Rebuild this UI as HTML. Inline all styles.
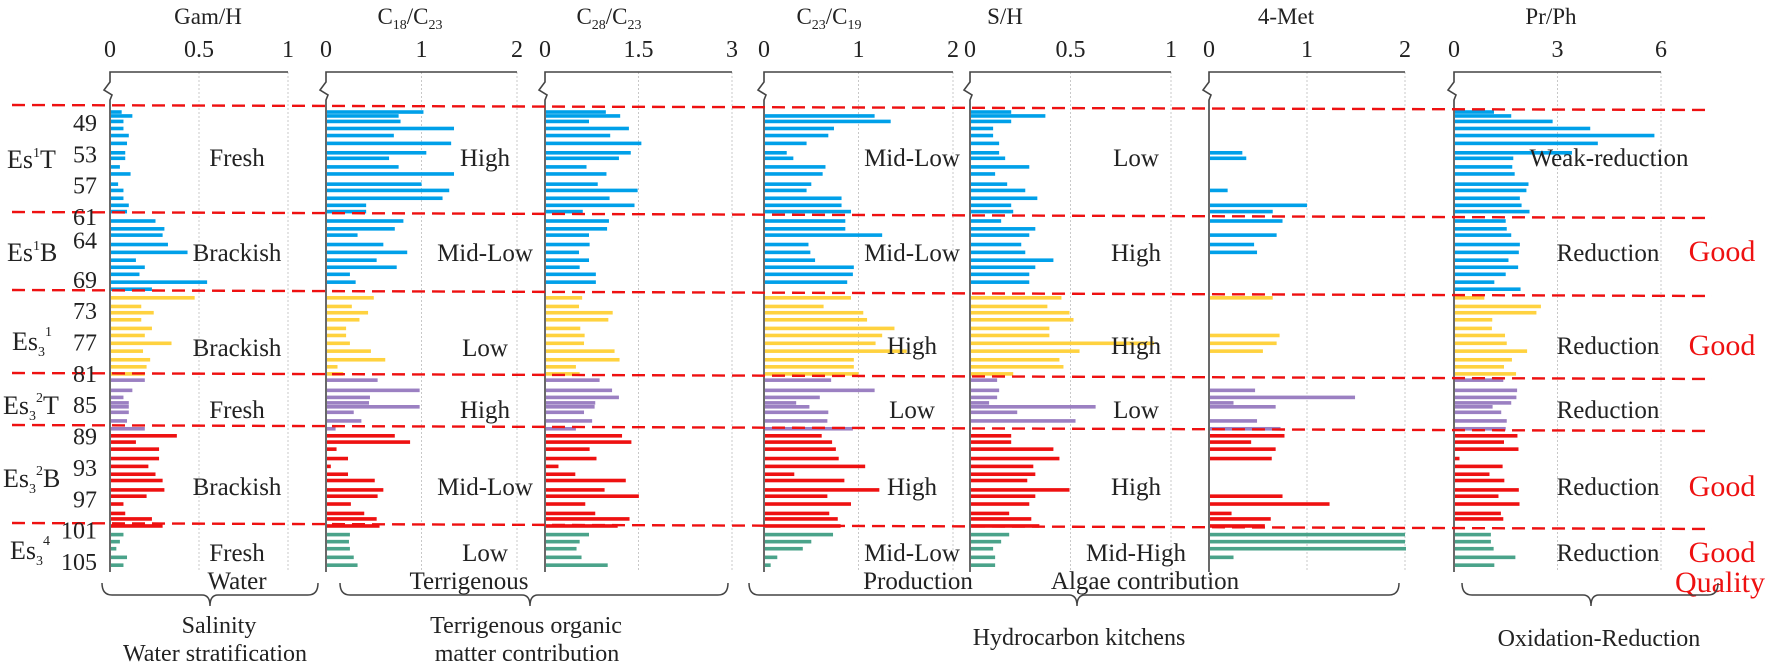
<!DOCTYPE html>
<html><head><meta charset="utf-8"><style>
html,body{margin:0;padding:0;background:#fff}
svg{display:block}
text{font-family:"Liberation Serif",serif;fill:#222}
text.red{fill:#ee1111}
</style></head><body>
<svg id="chart" width="1772" height="664" viewBox="0 0 1772 664" xmlns="http://www.w3.org/2000/svg">
<g id="grid"></g><g id="bars"></g><g id="axes"></g><g id="dividers"></g><g id="labels"></g>
</svg>
<script>
// ---- data ----
const depths = [47.6,48.1,48.8,49.7,50.6,51.6,52.8,53.5,54.6,55.5,56.8,57.6,58.6,59.5,60.3,61.5,62.5,63.3,64.5,65.5,66.5,67.4,68.3,69.3,70.2,
71.3,72.4,73.2,74.1,75.2,76.1,77.1,78.1,79.2,80.1,81.0,
81.8,83.1,84.0,84.7,85.2,85.9,87.0,88.0,
88.9,89.7,90.6,91.8,92.8,93.8,94.6,95.8,96.6,97.6,98.8,99.5,100.4,
101.5,102.4,103.3,104.4,105.4];
const depthTicks = [49,53,57,61,64,69,73,77,81,85,89,93,97,101,105];
const gamH = [.06,.12,.07,.07,.10,.09,.08,.08,.05,.11,.04,.07,.07,.10,.09,.25,.30,.29,.32,.43,.14,.19,.16,.54,.23,
.47,.17,.24,.17,.23,.19,.34,.18,.22,.20,.19,
.19,.12,.07,.10,.10,.10,.09,.19,
.37,.14,.27,.27,.21,.25,.29,.30,.20,.07,.08,.23,.29,
.07,.05,.03,.09,.07];
const c18c23 = [1.01,.75,.77,1.33,.70,1.30,1.04,.65,.75,1.33,.99,1.28,1.21,.41,.41,.80,.71,.32,.59,.84,.52,.73,.24,.30,null,
.49,.26,.43,.34,.20,.20,.24,.46,.61,.11,.17,
.53,.97,.45,.44,.97,.28,.36,.09,
.71,.87,.10,.22,.04,.22,.50,.59,.53,.25,.39,.52,.55,
.24,.23,.24,.28,.32];
const c28c23 = [.96,1.19,.69,1.33,1.03,1.53,1.36,1.17,.65,.97,.83,1.47,1.02,1.42,.59,1.01,.98,.69,.70,.53,.69,.54,.80,.80,null,
.58,.53,1.07,1.00,.55,.62,.61,1.10,1.18,.48,.54,
.86,1.06,1.17,.79,.78,.61,.74,.48,
1.22,1.37,.70,.81,.20,.47,1.28,.94,1.49,.63,.79,1.34,1.15,
.69,.54,.49,.57,.99];
const c23c19 = [null,1.16,1.33,.73,.67,.44,.23,.30,.64,.61,.49,.44,.81,.81,.91,.85,.85,1.24,.46,.48,.53,.94,.93,.87,null,
.91,.62,1.04,1.08,1.37,1.24,1.17,1.50,.94,.94,.99,
.70,1.16,.58,.33,.47,.67,.66,.93,
.60,.71,.75,.78,1.06,.31,.84,1.21,.66,.91,.68,.77,.80,
.72,.49,.40,.13,.06];
const sH = [.20,.37,.20,.11,.11,.14,.14,.17,.29,.12,.18,.27,.33,.20,.21,.15,.32,.29,.25,.27,.41,.32,.29,.29,null,
.45,.38,.49,.51,.39,.39,.91,.54,.44,.46,.21,
.13,.14,.13,.09,.62,.23,.52,null,
.20,.20,.41,.44,.31,.32,.28,.49,.32,.29,.19,.30,.34,
.19,.15,.11,.12,.12];
const met4 = [null,null,null,null,null,null,.33,.37,null,null,
null,.18,null,.99,.64,.74,null,.68,.45,.48,
null,null,null,null,null,.64,null,null,null,null,
.71,.68,.54,null,null,null,null,.46,1.48,.24,
.67,null,.48,.72,.76,.42,.67,.63,null,null,
null,null,.74,1.22,.22,.62,.56,1.99,1.99,2.0,
.24,null];
const prPh = [1.13,1.63,2.83,3.92,5.78,4.14,3.39,1.69,1.66,1.73,2.13,2.07,1.88,1.93,2.16,1.47,1.5,1.63,1.88,1.85,1.55,1.83,1.47,1.14,1.90,
.85,2.49,2.36,1.08,1.07,1.45,1.5,2.09,1.65,1.42,1.77,
1.40,1.80,1.78,1.63,1.09,1.34,1.5,1.47,
1.81,1.42,1.84,.13,1.38,1.0,1.43,1.85,1.26,1.87,1.33,1.4,null,
1.04,1.04,1.12,1.75,1.14];
const ticksA = ["0","0.5","1"], ticksB = ["0","1","2"], ticksC = ["0","1.5","3"], ticksD = ["0","3","6"];

// ---- layout ----
const NS="http://www.w3.org/2000/svg";
const yTop=72, yBot=572;
function yScale(d){return 123+(d-49)*7.84;}
function colorFor(d){return d<70.7?"#00a0e9":d<81.4?"#ffd23f":d<88.4?"#9b80c2":d<101?"#ee1111":"#4aa38a";}
function mk(tag,attrs,parent){const e=document.createElementNS(NS,tag);for(const k in attrs)e.setAttribute(k,attrs[k]);parent.appendChild(e);return e;}
const G=id=>document.getElementById(id);

const panels=[
 {key:"gam-h",x0:110,x1:288,max:1,vals:gamH,ticks:ticksA,title:[["Gam/H"]],tx:208},
 {key:"c18-c23",x0:326,x1:517,max:2,vals:c18c23,ticks:ticksB,title:[["C"],["18","s"],["/C"],["23","s"]],tx:410},
 {key:"c28-c23",x0:545,x1:732,max:3,vals:c28c23,ticks:ticksC,title:[["C"],["28","s"],["/C"],["23","s"]],tx:609},
 {key:"c23-c19",x0:764,x1:953,max:2,vals:c23c19,ticks:ticksB,title:[["C"],["23","s"],["/C"],["19","s"]],tx:829},
 {key:"s-h",x0:970,x1:1171,max:1,vals:sH,ticks:ticksA,title:[["S/H"]],tx:1005},
 {key:"4-met",x0:1209,x1:1405,max:2,vals:met4,ticks:ticksB,title:[["4-Met"]],tx:1286},
 {key:"pr-ph",x0:1454,x1:1661,max:6,vals:prPh,ticks:ticksD,title:[["Pr/Ph"]],tx:1551}
];

panels.forEach(p=>{
  const xs=v=>p.x0+(v/p.max)*(p.x1-p.x0);
  p.ticks.forEach((t,i)=>{
    const v=parseFloat(t), x=xs(v);
    if(v>0){const gl=mk("line",{x1:x,x2:x,y1:yTop,y2:yBot,stroke:"#c8c8c8","stroke-width":1,"stroke-dasharray":"2,2"},G("grid"));
      
      }
    const tl=mk("text",{x:x,y:57,"font-size":24,"text-anchor":"middle"},G("axes"));
    tl.textContent=t;
    
    
  });
  const tt=mk("text",{x:p.tx,y:24,"font-size":23,"text-anchor":"middle"},G("axes"));
  
  
  p.title.forEach(s=>{const ts=mk("tspan",{},tt);ts.textContent=s[0];if(s[1]){ts.setAttribute("font-size","14");ts.setAttribute("dy","5");}else if(tt.childNodes.length>1){ts.setAttribute("dy","-5");}});
  const ax=mk("path",{d:`M${p.x1},${yTop} L${p.x0},${yTop} L${p.x0},82 L${p.x0-6},90 L${p.x0+2},95 L${p.x0},100 L${p.x0},${yBot}`,fill:"none",stroke:"#444","stroke-width":1.6},G("axes"));
  
  
  p.vals.forEach((v,i)=>{
    if(v===null||v===undefined)return;
    const y=yScale(depths[i]);
    const r=mk("rect",{x:p.x0+1,y:y-1.8,width:Math.max(1,xs(v)-p.x0),height:3.6,fill:colorFor(depths[i])},G("bars"));
    
    
  });
});

depthTicks.forEach(d=>{
  const t=mk("text",{x:97,y:yScale(d)+8,"font-size":24,"text-anchor":"end"},G("labels"));
  t.textContent=d;
  
  
});

[[105,110],[212,218],[290,296],[373,379],[425,431],[523,529]].forEach(l=>{
  const d=mk("line",{x1:12,y1:l[0],x2:1712,y2:l[1],stroke:"#ee1111","stroke-width":2.4,"stroke-dasharray":"13,7"},G("dividers"));
  
  
});
</script>
<svg style="position:absolute;left:0;top:0" width="1772" height="664">
<g font-family="Liberation Serif, serif" fill="#222" font-size="25">
 <text x="7" y="168" font-size="26">Es<tspan font-size="14" dy="-11">1</tspan><tspan dy="11">T</tspan></text>
 <text x="7" y="261" font-size="26">Es<tspan font-size="14" dy="-11">1</tspan><tspan dy="11">B</tspan></text>
 <text x="12" y="350" font-size="26">Es<tspan font-size="14" dy="6">3</tspan><tspan font-size="14" dy="-20">1</tspan></text>
 <text x="3" y="414" font-size="26">Es<tspan font-size="14" dy="6">3</tspan><tspan font-size="14" dy="-18">2</tspan><tspan dy="12">T</tspan></text>
 <text x="3" y="487" font-size="26">Es<tspan font-size="14" dy="6">3</tspan><tspan font-size="14" dy="-18">2</tspan><tspan dy="12">B</tspan></text>
 <text x="10" y="559" font-size="26">Es<tspan font-size="14" dy="6">3</tspan><tspan font-size="14" dy="-20">4</tspan></text>
</g>
<g font-family="Liberation Serif, serif" fill="#222" font-size="25" text-anchor="middle">
 <text x="237" y="166">Fresh</text>
 <text x="237" y="261">Brackish</text>
 <text x="237" y="356">Brackish</text>
 <text x="237" y="418">Fresh</text>
 <text x="237" y="495">Brackish</text>
 <text x="237" y="561">Fresh</text>
 <text x="237" y="589">Water</text>
 <text x="485" y="166">High</text>
 <text x="485" y="261">Mid-Low</text>
 <text x="485" y="356">Low</text>
 <text x="485" y="418">High</text>
 <text x="485" y="495">Mid-Low</text>
 <text x="485" y="561">Low</text>
 <text x="469" y="589">Terrigenous</text>
 <text x="912" y="166">Mid-Low</text>
 <text x="912" y="261">Mid-Low</text>
 <text x="912" y="354">High</text>
 <text x="912" y="418">Low</text>
 <text x="912" y="495">High</text>
 <text x="912" y="561">Mid-Low</text>
 <text x="918" y="589">Production</text>
 <text x="1136" y="166">Low</text>
 <text x="1136" y="261">High</text>
 <text x="1136" y="354">High</text>
 <text x="1136" y="418">Low</text>
 <text x="1136" y="495">High</text>
 <text x="1136" y="561">Mid-High</text>
 <text x="1145" y="589">Algae contribution</text>
 <text x="1609" y="166">Weak-reduction</text>
 <text x="1608" y="261">Reduction</text>
 <text x="1608" y="354">Reduction</text>
 <text x="1608" y="418">Reduction</text>
 <text x="1608" y="495">Reduction</text>
 <text x="1608" y="561">Reduction</text>
</g>
<g font-family="Liberation Serif, serif" font-size="30" text-anchor="middle">
 <text class="red" x="1722" y="261">Good</text>
 <text class="red" x="1722" y="355">Good</text>
 <text class="red" x="1722" y="496">Good</text>
 <text class="red" x="1722" y="562">Good</text>
 <text class="red" x="1720" y="592">Quality</text>
</g>
<g fill="none" stroke="#444" stroke-width="1.5">
 <path d="M102,583 Q102,595 112,595 L202,595 Q210,595 210,606 Q210,595 218,595 L308,595 Q318,595 318,583"/>
 <path d="M340,583 Q340,595 350,595 L522,595 Q530,595 530,606 Q530,595 538,595 L718,595 Q728,595 728,583"/>
 <path d="M749,583 Q749,595 759,595 L1069,595 Q1077,595 1077,606 Q1077,595 1085,595 L1389,595 Q1399,595 1399,583"/>
 <path d="M1462,583 Q1462,595 1472,595 L1583,595 Q1591,595 1591,606 Q1591,595 1599,595 L1708,595 Q1718,595 1718,583"/>
</g>
<g font-family="Liberation Serif, serif" fill="#222" font-size="24" text-anchor="middle">
 <text x="219" y="633">Salinity</text>
 <text x="215" y="661">Water stratification</text>
 <text x="526" y="633">Terrigenous organic</text>
 <text x="527" y="661">matter contribution</text>
 <text x="1079" y="645">Hydrocarbon kitchens</text>
 <text x="1599" y="646">Oxidation-Reduction</text>
</g>
</svg>
</body></html>
